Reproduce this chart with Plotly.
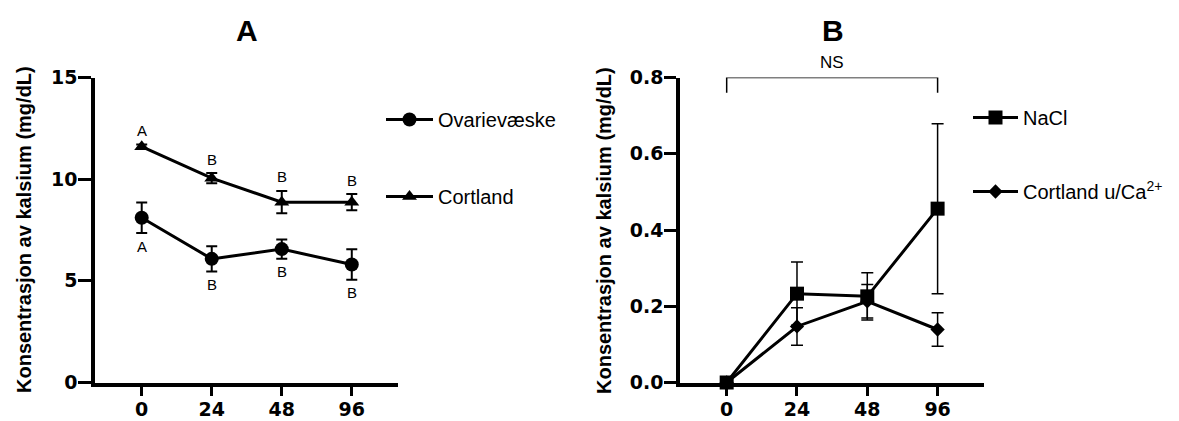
import plotly.graph_objects as go

# ---------------- data ----------------
times = ["0", "24", "48", "96"]

# Panel A
ovar_mean = [8.1, 6.08, 6.56, 5.8]
ovar_err = [0.75, 0.62, 0.47, 0.75]
cort_mean = [11.6, 10.05, 8.87, 8.87]
cort_err = [0.1, 0.25, 0.55, 0.4]
cort_letters = ["A", "B", "B", "B"]
ovar_letters = ["A", "B", "B", "B"]

# Panel B
nacl_mean = [0.0, 0.233, 0.226, 0.456]
nacl_err = [0.0, 0.083, 0.062, 0.223]
cca_mean = [0.0, 0.147, 0.213, 0.139]
cca_err = [0.0, 0.049, 0.044, 0.044]

FONT = "Arial, 'Liberation Sans', sans-serif"
TICKFONT = "'DejaVu Sans', Arial, sans-serif"
OFF = 8  # page body margin
W, H = 1179 - OFF, 421 - OFF

def px_x(p):
    return (p - OFF) / W

def px_y(p):
    return 1 - (p - OFF) / H

fig = go.Figure()

def add_series(x_ax, y_ax, y, err, symbol, size, ethick, ewidth, name, legend):
    fig.add_trace(go.Scatter(
        x=times, y=y, xaxis=x_ax, yaxis=y_ax, mode="lines+markers",
        line=dict(color="black", width=3),
        marker=dict(symbol=symbol, size=size, color="black"),
        error_y=dict(type="data", array=err, visible=True, color="black",
                     thickness=ethick, width=ewidth),
        cliponaxis=False, showlegend=False, name=name))
    # legend-only entry (no error bars)
    fig.add_trace(go.Scatter(
        x=[None], y=[None], xaxis=x_ax, yaxis=y_ax, mode="lines+markers",
        line=dict(color="black", width=3),
        marker=dict(symbol=symbol, size=size, color="black"),
        name=name, legend=legend, legendgroup=name, showlegend=True))

add_series("x", "y", ovar_mean, ovar_err, "circle", 14, 2, 5.5, "Ovarievæske", "legend")
add_series("x", "y", cort_mean, cort_err, "triangle-up", 13, 2, 5.5, "Cortland", "legend")
add_series("x2", "y2", nacl_mean, nacl_err, "square", 14, 1.5, 6, "NaCl", "legend2")
add_series("x2", "y2", cca_mean, cca_err, "diamond", 11, 1.5, 6, "Cortland u/Ca<sup>2+</sup>", "legend2")

# significance letters panel A
annotations = []
for i, t in enumerate(times):
    annotations.append(dict(x=i, y=cort_mean[i] + cort_err[i], xref="x", yref="y",
                            text=cort_letters[i], showarrow=False, yshift=14,
                            xanchor="center", yanchor="middle",
                            font=dict(family=FONT, size=15, color="black")))
    annotations.append(dict(x=i, y=ovar_mean[i] - ovar_err[i], xref="x", yref="y",
                            text=ovar_letters[i], showarrow=False, yshift=-13,
                            xanchor="center", yanchor="middle",
                            font=dict(family=FONT, size=15, color="black")))

def paper_text(x, y, text, size, angle=0):
    return dict(x=px_x(x), y=px_y(y), xref="paper", yref="paper", text=text,
                textangle=angle, showarrow=False, xanchor="center", yanchor="middle",
                font=dict(family=FONT, size=size, color="black"))

annotations.append(paper_text(247, 30, "<b>A</b>", 30))
annotations.append(paper_text(833, 30, "<b>B</b>", 30))
ytitle = "<b>Konsentrasjon av kalsium (mg/dL)</b>"
annotations.append(paper_text(24, 230, ytitle, 20, -90))
annotations.append(paper_text(604, 231, ytitle, 20, -90))
annotations.append(dict(x=1.5, y=px_y(62), xref="x2", yref="paper", text="NS",
                        showarrow=False, xanchor="center", yanchor="middle",
                        font=dict(family=FONT, size=17, color="black")))

shapes = [dict(type="path", xref="x2", yref="y2",
               path="M 0,0.76 L 0,0.8 L 3,0.8 L 3,0.76",
               line=dict(color="black", width=1.5))]

tickfont = dict(family=TICKFONT, size=19, color="black", weight="bold")
axis_common = dict(showline=True, linecolor="black", linewidth=3.5, ticks="outside",
                   tickcolor="black", tickwidth=3, showgrid=False, zeroline=False,
                   tickfont=tickfont, layer="below traces", automargin=False)

ytop, ybot = 77.5, 382.5
fig.update_layout(
    template="none",
    width=W, height=H, margin=dict(l=0, r=0, t=0, b=0, pad=0),
    paper_bgcolor="white", plot_bgcolor="white",
    font=dict(family=FONT, color="black"),
    xaxis=dict(domain=[px_x(95), px_x(398)], type="category", range=[-0.667, 3.66],
               anchor="y", ticklen=10, ticklabelstandoff=-3, **axis_common),
    yaxis=dict(domain=[px_y(ybot), px_y(ytop)], range=[0, 15], dtick=5, anchor="x",
               ticklen=13, ticklabelstandoff=-3, **axis_common),
    xaxis2=dict(domain=[px_x(680), px_x(984)], type="category", range=[-0.664, 3.66],
                anchor="y2", ticklen=10, ticklabelstandoff=-3, **axis_common),
    yaxis2=dict(domain=[px_y(ybot), px_y(ytop)], range=[0, 0.8], dtick=0.2, tickformat=".1f",
                anchor="x2", ticklen=12, ticklabelstandoff=-3, **axis_common),
    legend=dict(x=px_x(381), y=px_y(100), xanchor="left", yanchor="top",
                font=dict(family=FONT, size=20, color="black"), tracegroupgap=48,
                itemwidth=47, bgcolor="rgba(0,0,0,0)"),
    legend2=dict(x=px_x(968), y=px_y(98), xanchor="left", yanchor="top",
                 font=dict(family=FONT, size=20, color="black"), tracegroupgap=45,
                 itemwidth=45, bgcolor="rgba(0,0,0,0)"),
    annotations=annotations, shapes=shapes,
)

fig.write_html("out.html")
